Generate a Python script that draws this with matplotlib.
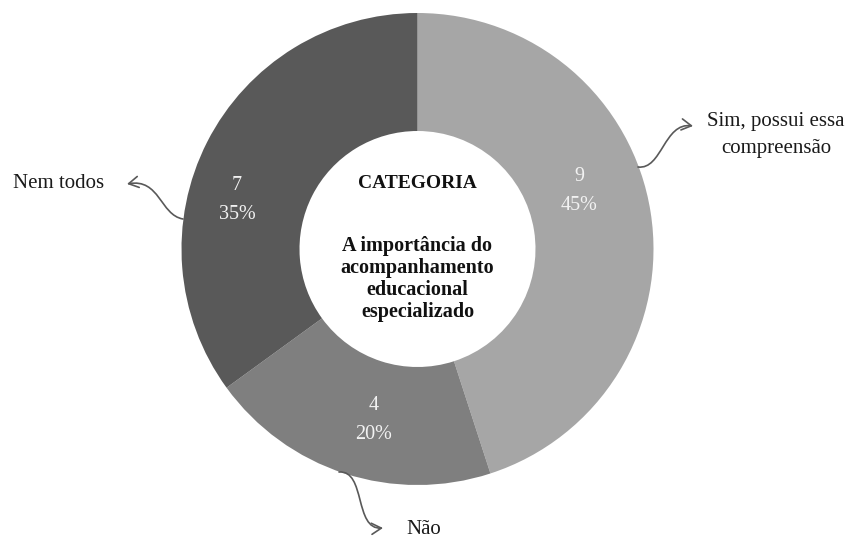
import matplotlib
matplotlib.use("Agg")
import matplotlib.pyplot as plt
from matplotlib.patches import FancyArrowPatch
from matplotlib.path import Path

categories = ["Sim, possui essa\ncompreensão", "Não", "Nem todos"]
counts = [9, 4, 7]
percents = [45, 20, 35]
colors = ["#a6a6a6", "#7f7f7f", "#595959"]

W, H = 849, 543
fig = plt.figure(figsize=(W / 100, H / 100), dpi=100)
ax = fig.add_axes([0, 0, 1, 1])

def Y(y):
    return H - y

cx, cy, R = 417.5, 249, 236
ax.pie(counts, colors=colors, startangle=90, counterclock=False, radius=R,
       center=(cx, Y(cy)), wedgeprops=dict(width=R / 2, edgecolor="none"))
ax.set_xlim(0, W)
ax.set_ylim(0, H)
ax.set_aspect("equal")
ax.axis("off")

serif = "Liberation Serif"

# inner value labels
inner_pos = [(579, 191), (374, 420), (237, 200)]
for (x, y), c, p in zip(inner_pos, counts, percents):
    ax.text(x, Y(y), f"{c}\n{p}%", ha="center", va="center", fontsize=14.5,
            family=serif, color="#f2f2f2", linespacing=1.75)

# outer category labels
outer_pos = [(776, 135), (424, 530), (59, 183)]
for (x, y), lab in zip(outer_pos, categories):
    ax.text(x, Y(y), lab, ha="center", va="center", fontsize=15, family=serif,
            color="#1a1a1a", linespacing=1.6)

# center text
ax.text(cx, Y(183), "CATEGORIA", ha="center", va="center", fontsize=14,
        family=serif, fontweight="bold", color="#111111")
ax.text(cx, Y(279), "A importância do\nacompanhamento\neducacional\nespecializado",
        ha="center", va="center", fontsize=14.5, family=serif,
        fontweight="bold", color="#111111", linespacing=1.12)

# curved arrows
arrow_paths = [
    [(638, 167), (662, 170), (664, 122), (693, 126)],
    [(339, 472), (366, 470), (354, 530), (383, 528)],
    [(183, 219), (160, 215), (160, 178), (127, 184)],
]
codes = [Path.MOVETO, Path.CURVE4, Path.CURVE4, Path.CURVE4]
for pts in arrow_paths:
    verts = [(x, Y(y)) for x, y in pts]
    arr = FancyArrowPatch(path=Path(verts, codes),
                          arrowstyle="->,head_length=7,head_width=4",
                          color="#595959", lw=1.2)
    ax.add_patch(arr)

fig.savefig("out.png", dpi=100)
